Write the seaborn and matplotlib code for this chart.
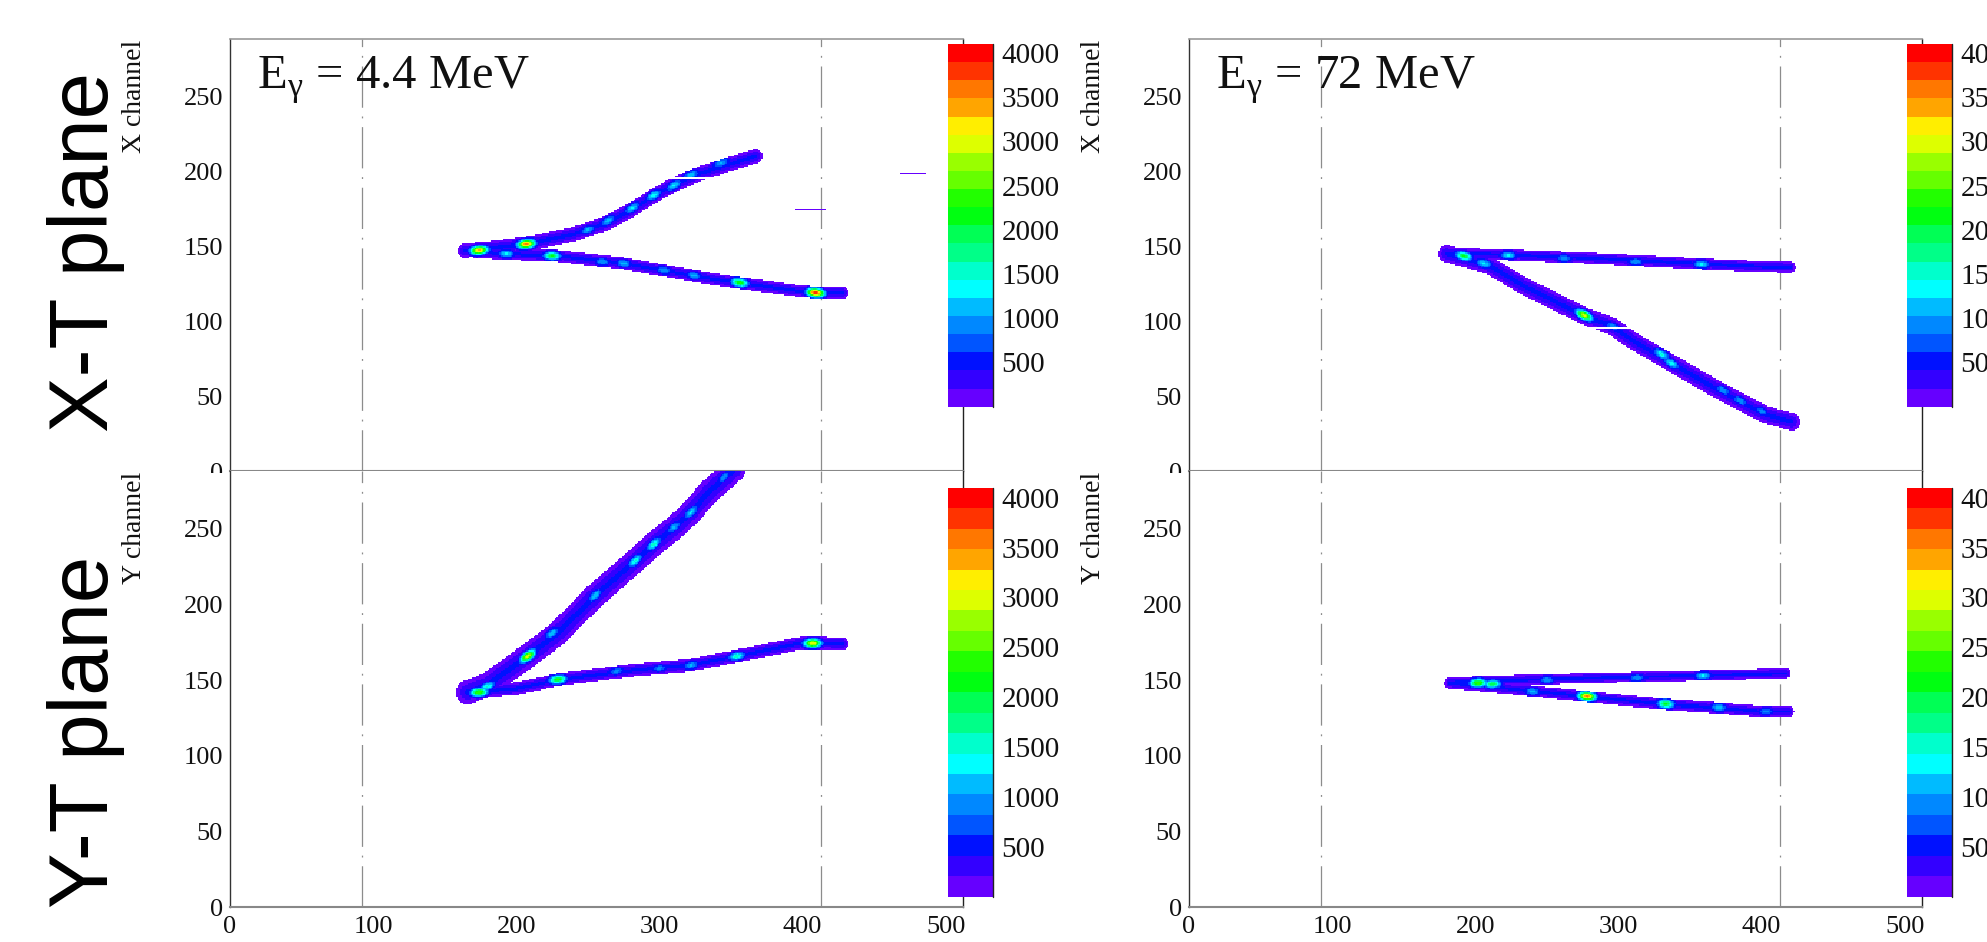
import matplotlib

matplotlib.use("Agg")
import matplotlib.pyplot as plt  # noqa: E402
import numpy as np
import pandas as pd
import seaborn as sns
from matplotlib.colors import ListedColormap
from matplotlib.patches import Rectangle
from matplotlib.ticker import MultipleLocator

W, H = 1987, 942

T_EDGES = np.arange(0, 513)
CH_EDGES = np.arange(0, 289)
DASH_T = [92, 413]
CBAR_TICKS = [500, 1000, 1500, 2000, 2500, 3000, 3500, 4000]
ZMAX = 4100

# 20-level rainbow palette, violet -> red
PALETTE = ["#6600ff", "#3300ff", "#0011ff", "#0055ff", "#0088ff",
           "#00bbff", "#00ffff", "#00ffcc", "#00ff88", "#00ff55",
           "#00ff11", "#22ff00", "#66ff00", "#99ff00", "#ddff00",
           "#ffee00", "#ffa500", "#ff7700", "#ff3300", "#ff0000"]

ROW_NAMES = ["X-T plane", "Y-T plane"]
CH_LABELS = ["X channel", "Y channel"]
ENERGIES = ["4.4", "72"]

# tracks: (vertices (t, channel), half width, core counts)
XT44_TRACKS = [
    ([(164, 147), (185, 149), (210, 152), (240, 158), (262, 165), (280, 174),
      (295, 183), (310, 191), (330, 199), (350, 205), (367, 210)], 4.8, 520),
    ([(164, 147), (190, 145), (229, 143.5), (275, 138.5), (335, 128.5),
      (356, 125.5), (395, 120.5), (410, 119), (428, 119)], 4.0, 520),
    ([(396, 174.5), (415, 174.5)], 0.6, 90),
    ([(469, 198.5), (485, 198.5)], 0.6, 60),
]
XT44_SPOTS = [(174, 147.3, 3400), (207, 151.5, 3600), (193, 145, 1300),
              (225, 143.6, 2100), (250, 161, 1100), (264, 167, 1200),
              (281, 175.5, 1300), (296, 184, 1400), (310, 190.5, 1300),
              (322, 197.5, 1200), (343, 205.5, 1100), (260, 139.6, 1000),
              (275, 138.5, 1100), (303, 134, 1000), (324, 130.5, 1100),
              (356, 125.8, 2300), (409, 119, 4000)]
XT44_DEAD = [195]

XT72_TRACKS = [
    ([(180, 145.5), (223, 144.2), (281, 142), (330, 139.6), (358, 138.2),
      (397, 136.5), (420, 136)], 3.7, 520),
    ([(180, 145), (209, 137.5), (233, 124), (276, 103.5), (296, 96.5),
      (310, 87), (330, 76), (368, 55), (402, 38), (421, 33)], 5.8, 520),
]
XT72_SPOTS = [(192, 143.5, 2100), (206, 138.5, 1300), (223, 144, 1300),
              (262, 142, 1000), (312, 139.6, 1000), (358, 138, 1300),
              (276, 104, 3000), (296, 96.5, 1000), (330, 78, 1500),
              (337, 72, 1400), (373, 54, 1000), (385, 47, 1000), (400, 40, 900)]
XT72_DEAD = [95]

YT44_TRACKS = [
    ([(166, 142), (180, 147), (208, 166), (229, 181), (254, 205), (282, 228),
      (296, 240), (312, 252), (322, 261), (335, 275), (352, 289)], 8.0, 500),
    ([(166, 142), (201, 144.5), (229, 150.4), (282, 156.7), (321, 160),
      (352, 165.6), (398, 174.3), (409, 174.5), (428, 174)], 4.2, 520),
]
YT44_SPOTS = [(174, 142, 2500), (180, 146, 1500), (208, 166, 3000),
              (225, 181, 1200), (255, 206, 1200), (283, 229, 1500),
              (296, 240, 1600), (310, 251, 1100), (322, 261, 1300),
              (345, 284, 1000), (229, 150.5, 2300), (270, 156, 900),
              (300, 158, 900), (322, 160, 1100), (354, 166, 1600),
              (407, 174.3, 3100)]

YT72_TRACKS = [
    ([(182, 148.5), (223, 150), (294, 151.8), (357, 153.1), (417, 154.6)], 3.4, 520),
    ([(182, 148), (223, 144.4), (276, 139.3), (329, 134.4), (371, 131.6),
      (400, 129.4), (419, 129.6)], 3.6, 520),
]
YT72_SPOTS = [(202, 148.2, 2500), (212, 147.5, 2000), (240, 142.5, 1100),
              (250, 150.3, 1000), (278, 139.3, 3600), (313, 151.6, 1000),
              (333, 134.4, 2100), (359, 153, 1300), (370, 132, 1200),
              (403, 129.5, 900)]

PANELS = [
    (0, 0, XT44_TRACKS, XT44_SPOTS, XT44_DEAD),
    (0, 1, XT72_TRACKS, XT72_SPOTS, XT72_DEAD),
    (1, 0, YT44_TRACKS, YT44_SPOTS, []),
    (1, 1, YT72_TRACKS, YT72_SPOTS, []),
]


def seg_dist(T, C, x0, y0, x1, y1):
    dx, dy = x1 - x0, y1 - y0
    u = np.clip(((T - x0) * dx + (C - y0) * dy) / (dx * dx + dy * dy), 0, 1)
    return np.hypot(T - (x0 + u * dx), C - (y0 + u * dy))


def cells(tracks, spots, dead_rows):
    """Turn the track outlines into per-cell counts."""
    T, C = np.meshgrid(T_EDGES[:-1] + 0.5, CH_EDGES[:-1] + 0.5, indexing="ij")
    counts = np.zeros_like(T)
    inside = np.zeros(T.shape, bool)
    segs = []
    for verts, hw, level in tracks:
        d = np.full(T.shape, np.inf)
        for (x0, y0), (x1, y1) in zip(verts[:-1], verts[1:]):
            d = np.minimum(d, seg_dist(T, C, x0, y0, x1, y1))
            segs.append((x0, y0, x1, y1))
        counts = np.maximum(counts, np.where(d < hw, level * (1 - d / hw) + 20, 0))
        inside |= d < hw
    for t, ch, peak in spots:
        # orient each hot spot along its nearest track segment
        best = min(segs, key=lambda s: seg_dist(np.array(t), np.array(ch), *s))
        ang = np.arctan2(best[3] - best[1], best[2] - best[0])
        along = (T - t) * np.cos(ang) + (C - ch) * np.sin(ang)
        perp = -(T - t) * np.sin(ang) + (C - ch) * np.cos(ang)
        blob = peak * np.exp(-0.5 * ((along / 4.2) ** 2 + (perp / 2.0) ** 2))
        counts = np.where(inside, np.maximum(counts, blob), counts)
    for row in dead_rows:
        counts[:, row] = 0
    m = counts > 0
    return pd.DataFrame({"t": T[m], "ch": C[m], "n": counts[m]})


sns.set_theme(style="white")
plt.rcParams["font.family"] = ["Liberation Serif", "DejaVu Serif"]
plt.rcParams["mathtext.fontset"] = "custom"
plt.rcParams["mathtext.rm"] = "Liberation Serif"

fig = plt.figure(figsize=(W / 100, H / 100), dpi=100)
cmap = ListedColormap(PALETTE)

col_x0 = [230, 1189]
row_y = [(39.3, 471.4), (471.4, 907.3)]
cbar_y = [(44, 406.7), (487.7, 896.7)]

for row, col, tracks, spots, dead in PANELS:
    x0 = col_x0[col]
    top, bot = row_y[row]
    ax = fig.add_axes([x0 / W, (H - bot) / H, 733 / W, (bot - top) / H], zorder=1 + 2 * row)
    ctop, cbot = cbar_y[row]
    cax = fig.add_axes([(x0 + 718) / W, (H - cbot) / H, 45 / W, (cbot - ctop) / H],
                       zorder=6)

    df = cells(tracks, spots, dead)
    sns.histplot(data=df, x="t", y="ch", weights="n", bins=(T_EDGES, CH_EDGES),
                 cmap=cmap, vmin=0, vmax=ZMAX, cbar=True, cbar_ax=cax, ax=ax)
    ax.set_xlim(0, 512)
    ax.set_ylim(0, 288)
    ax.set_xlabel("")
    ax.set_ylabel("")
    ax.set_facecolor("white")

    for t in DASH_T:
        ax.axvline(t, color="#8c8c8c", lw=0.9, ls=(0, (33, 7, 1.5, 7)), zorder=0.5)

    ax.xaxis.set_major_locator(MultipleLocator(100))
    ax.xaxis.set_minor_locator(MultipleLocator(20))
    ax.yaxis.set_major_locator(MultipleLocator(50))
    ax.yaxis.set_minor_locator(MultipleLocator(10))
    ax.tick_params(axis="y", which="major", direction="in", length=21, width=1.1,
                   color="#777777", labelsize=19, pad=5, labelcolor="#111111")
    ax.tick_params(axis="y", which="minor", direction="in", length=11, width=1.1,
                   color="#777777")
    ax.tick_params(axis="x", which="major", direction="in", length=9, width=1,
                   color="#444444", labelsize=19, pad=6, labelcolor="#111111",
                   labelbottom=(row == 1))
    ax.tick_params(axis="x", which="minor", direction="in", length=4.5, width=1,
                   color="#444444")
    ax.spines["left"].set_color("#333333")
    ax.spines["left"].set_linewidth(1.0)
    ax.spines["right"].set_color("#222222")
    ax.spines["right"].set_linewidth(1.0)
    ax.spines["bottom"].set_color("#888888")
    ax.spines["bottom"].set_linewidth(1.5)
    ax.spines["top"].set_color("#999999")
    ax.spines["top"].set_linewidth(1.2)
    ax.spines["top"].set_visible(row == 0)

    ax.text(-0.130, 1.0, CH_LABELS[row], transform=ax.transAxes, rotation=90,
            ha="center", va="top", fontsize=20, color="#111111")
    if row == 0:
        ax.text(19, 255, "E$_{\\mathrm{γ}}$ = " + ENERGIES[col] + " MeV",
                ha="left", va="baseline", fontsize=35, color="#111111")

    cb = ax.collections[-1].colorbar
    cb.outline.set_visible(False)
    cb.set_ticks(CBAR_TICKS)
    cax.tick_params(axis="y", which="both", direction="in", length=17, width=1.1,
                    color="#333333", labelsize=21, pad=6, labelcolor="#111111",
                    right=True, left=False)
    cax.minorticks_off()
    cax.plot([1, 1], [0, 1], transform=cax.transAxes, color="#222222", lw=1,
             clip_on=False)

# the lower pads hide the bottom half of the upper pads' "0" labels
for x0 in col_x0:
    fig.add_artist(Rectangle(((x0 - 45) / W, (H - 497) / H), 44 / W, 24.5 / H,
                             transform=fig.transFigure, facecolor="white",
                             edgecolor="none", zorder=2))

for name, yc in zip(ROW_NAMES, [252, 732]):
    fig.text(86 / W, 1 - yc / H, name, rotation=90, ha="center", va="center",
             fontsize=60, family="Liberation Sans", color="black")

fig.savefig("out.png", dpi=100)
plt.close(fig)
